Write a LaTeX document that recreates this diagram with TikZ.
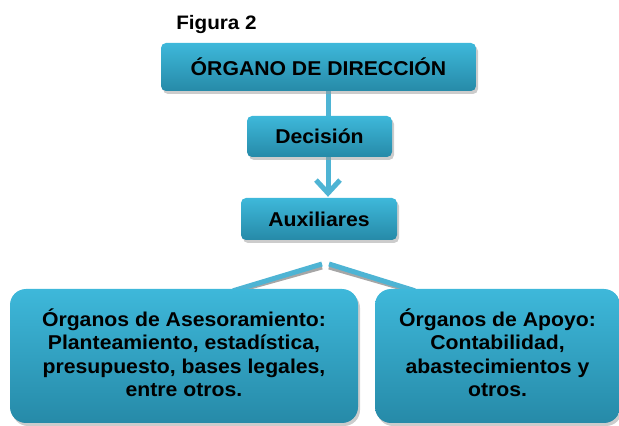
\documentclass[tikz,border=0pt]{standalone}
\usepackage{fontspec}
\setmainfont{Liberation Sans}[FakeStretch=1.06]
\usetikzlibrary{shadows,arrows.meta,backgrounds}
\definecolor{boxtop}{RGB}{62,184,218}
\definecolor{boxbot}{RGB}{38,138,168}
\definecolor{linec}{RGB}{78,180,212}
\newcommand{\boxlines}[1]{\raisebox{4pt}{\begin{tabular}{@{}c@{}}#1\end{tabular}}}
\begin{document}
\begin{tikzpicture}[x=1pt,y=1pt,
  box/.style={rounded corners=5pt, top color=boxtop, bottom color=boxbot,
    drop shadow={shadow xshift=2pt,shadow yshift=-3pt,fill=black!40},
    font=\bfseries\fontsize{20}{23.3}\selectfont, align=center, inner sep=0pt},
  bigbox/.style={box, rounded corners=16pt, minimum height=134pt},
  conn/.style={line width=5pt, draw=linec},
  connshadow/.style={line width=5pt, draw=black!35},
  title/.style={font=\bfseries\fontsize{19.5}{22}\selectfont}]
\useasboundingbox (0,0) rectangle (619,426);
\node[title] (fig) at (216.5,401) {Figura 2};
\node[box, minimum width=315pt, minimum height=48pt] (dir) at (318.5,359) {ÓRGANO DE DIRECCIÓN};
\node[box, minimum width=145pt, minimum height=41pt] (dec) at (319.5,289.5) {Decisión};
\node[box, minimum width=156pt, minimum height=42pt] (aux) at (319,207) {Auxiliares};
\node[bigbox, minimum width=348pt] (left) at (184,70) {\boxlines{Órganos de Asesoramiento:\\Planteamiento, estadística,\\presupuesto, bases legales,\\entre otros.}};
\node[bigbox, minimum width=245pt] (right) at (497.5,70) {\boxlines{Órganos de Apoyo:\\Contabilidad,\\abastecimientos y\\otros.}};
\coordinate (cx) at (328,0);
\coordinate (jl) at (322,162);
\coordinate (jr) at (329,162);
\coordinate (lt) at (233,0);
\coordinate (rt) at (415,0);
\begin{scope}[on background layer]
  \draw[conn] (dir.south -| cx) -- (dec.north -| cx);
  \draw[conn, -{Straight Barb[length=13pt,width=24pt]}] (dec.south -| cx) -- ([yshift=1pt]aux.north -| cx);
  \draw[connshadow] ([yshift=-3pt]jl) -- ([yshift=-3pt]left.north -| lt);
  \draw[connshadow] ([yshift=-3pt]jr) -- ([yshift=-3pt]right.north -| rt);
  \draw[conn] (jl) -- ([yshift=-2pt]left.north -| lt);
  \draw[conn] (jr) -- ([yshift=-2pt]right.north -| rt);
\end{scope}
\end{tikzpicture}
\end{document}
